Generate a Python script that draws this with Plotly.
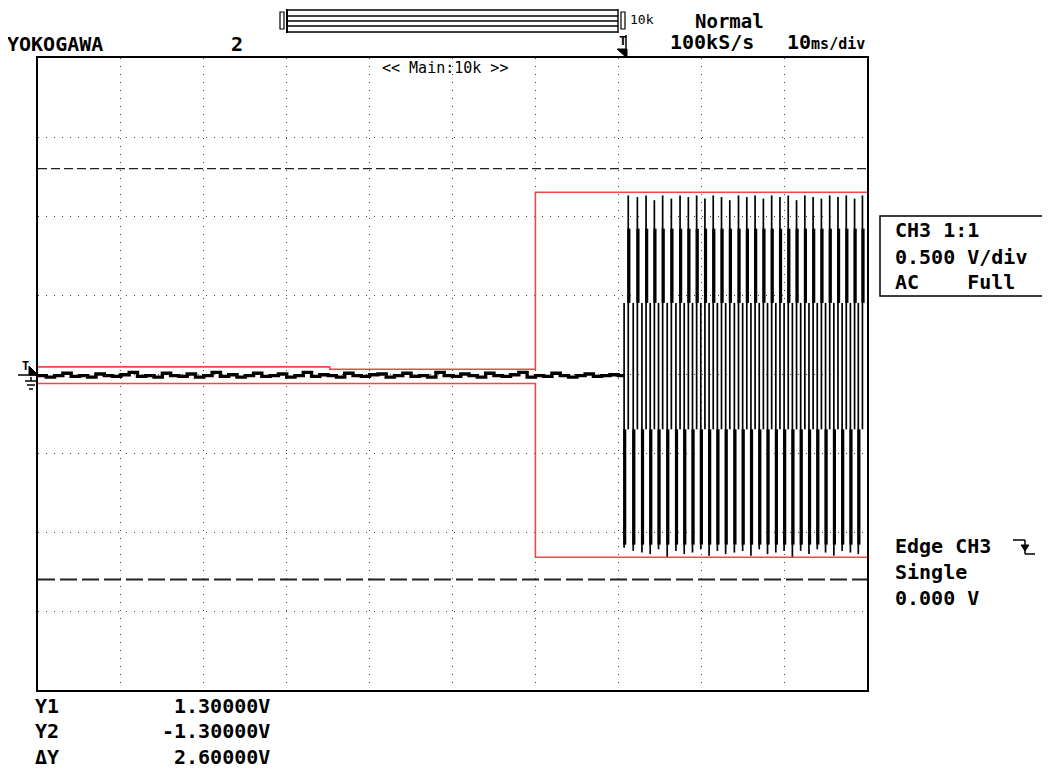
import plotly.graph_objects as go

# ---- data (time in ms relative to trigger, volts) ----
noise_t = list(range(-70, 1))
noise_v = [-0.010, -0.020, -0.010, 0.005, -0.015, -0.010, -0.020, 0.000, -0.010, -0.015,
           -0.005, 0.010, -0.015, -0.010, -0.020, 0.005, -0.010, -0.015, 0.000, -0.020,
           -0.010, 0.010, -0.015, -0.005, -0.020, -0.010, 0.005, -0.015, -0.010, 0.000,
           -0.020, -0.010, 0.010, -0.015, -0.005, -0.010, -0.020, 0.005, -0.010, -0.015,
           -0.005, 0.000, -0.020, -0.010, 0.005, -0.015, -0.010, -0.020, 0.010, -0.010,
           -0.015, 0.000, -0.010, -0.020, 0.005, -0.010, -0.015, -0.005, 0.010, -0.020,
           -0.010, -0.015, 0.005, -0.010, -0.020, -0.010, 0.000, -0.015, -0.010, -0.005, -0.010]

edge_t = [0.7, 1.8, 2.85, 3.85, 4.85, 5.9, 6.95, 7.95, 8.95, 9.95, 10.95, 11.95, 12.95,
          14.0, 15.0, 16.0, 17.0, 18.0, 19.0, 20.0, 21.0, 22.0, 23.0, 24.0, 25.0, 26.0,
          27.0, 28.0, 28.95]
peak_hi = [1.13, 1.12, 1.13, 1.10, 1.13, 1.11, 1.13, 1.12, 1.13, 1.11, 1.13, 1.12, 1.10,
           1.13, 1.12, 1.13, 1.11, 1.13, 1.12, 1.13, 1.10, 1.13, 1.12, 1.11, 1.13, 1.12,
           1.13, 1.11, 1.13]
peak_lo = [-1.10, -1.12, -1.13, -1.14, -1.11, -1.16, -1.12, -1.14, -1.13, -1.11, -1.15,
           -1.12, -1.14, -1.13, -1.12, -1.15, -1.11, -1.14, -1.13, -1.12, -1.16, -1.12,
           -1.14, -1.11, -1.13, -1.15, -1.12, -1.13, -1.14]
# dense (min/max) bands seen inside each cycle
low_band = [-1.08, -0.35]
high_band = [0.92, 0.45]

mask_hi_t = [-70, -34.8, -34.8, -10, -10, 30]
mask_hi_v = [0.045, 0.045, 0.03, 0.03, 1.15, 1.15]
mask_lo_t = [-70, -10, -10, 30]
mask_lo_v = [-0.06, -0.06, -1.16, -1.16]

cursor_y = [1.3, -1.3]

# ---- burst drawn as min/max columns, like the scope display ----
thin_t, thin_v, band_t, band_v = [], [], [], []
for t, hi, lo in zip(edge_t, peak_hi, peak_lo):
    thin_t += [t, t, None, t + 0.5, t + 0.5, None]
    thin_v += [high_band[1], lo, None, low_band[1], hi, None]
    band_t += [t + 0.07, t + 0.07, None, t + 0.57, t + 0.57, None]
    band_v += [low_band[0], low_band[1], None, high_band[0], high_band[1], None]

# plot frame position on screen (page body adds an 8px offset)
OFF = 8
L, R, T, B = 38, 867, 58, 690
W, H = R - L, B - T
FW, FH = 1050 - OFF, 775 - OFF


def px(x):
    return (x - L) / W


def py(y):
    return (B - y) / H


FONT = "DejaVu Sans Mono"

fig = go.Figure()
fig.add_trace(go.Scatter(x=noise_t + [edge_t[0]], y=noise_v + [noise_v[-1]], mode="lines",
                         line_shape="hv", line=dict(color="black", width=3.4),
                         hoverinfo="skip"))
fig.add_trace(go.Scatter(x=thin_t, y=thin_v, mode="lines",
                         line=dict(color="black", width=1.7), hoverinfo="skip"))
fig.add_trace(go.Scatter(x=band_t, y=band_v, mode="lines",
                         line=dict(color="black", width=3.2), hoverinfo="skip"))
fig.add_trace(go.Scatter(x=mask_hi_t, y=mask_hi_v, mode="lines",
                         line=dict(color="#f04848", width=1.6), hoverinfo="skip"))
fig.add_trace(go.Scatter(x=mask_lo_t, y=mask_lo_v, mode="lines",
                         line=dict(color="#f04848", width=1.6), hoverinfo="skip"))
fig.add_trace(go.Scatter(x=[-70, 30], y=[cursor_y[0]] * 2, mode="lines",
                         line=dict(color="#222", width=1.4, dash="9px,4px"), hoverinfo="skip"))
fig.add_trace(go.Scatter(x=[-70, 30], y=[cursor_y[1]] * 2, mode="lines",
                         line=dict(color="#222", width=2, dash="17px,5px"), hoverinfo="skip"))

axis = dict(showgrid=True, gridcolor="#444", gridwidth=1.3, griddash="1px,7px",
            zeroline=False, showticklabels=False, ticks="",
            showline=True, mirror=True, linecolor="black", linewidth=2)
fig.update_xaxes(range=[-70, 30], tick0=-70, dtick=10, **axis)
fig.update_yaxes(range=[-2, 2], tick0=-2, dtick=0.5, **axis)

ann = []


def text(x, y, s, size=20, bold=True, anchor="left", yanchor="middle"):
    ann.append(dict(x=px(x), y=py(y), xref="paper", yref="paper", text=s, showarrow=False,
                    xanchor=anchor, yanchor=yanchor,
                    font=dict(family=FONT, size=size, color="black",
                              weight="bold" if bold else "normal")))


text(5, 44, "YOKOGAWA")
text(229, 44, "2")
text(693, OFF, "Normal", size=19, yanchor="top")
text(668, 42, "100kS/s")
text(867, 42, "10<span style='font-size:15px'>ms/div</span>", anchor="right")
text(380, 68, "&lt;&lt; Main:10k &gt;&gt;", size=15, bold=False)
text(628, 20, "10k", size=13, bold=False)
text(617, 40, "T", size=13)
text(20, 366, "T", size=12)

text(893, 230, "CH3 1:1")
text(893, 257, "0.500 V/div")
text(893, 282, "AC    Full")
text(893, 546, "Edge CH3")
text(893, 572, "Single")
text(893, 598, "0.000 V")

text(33, 706, "Y1")
text(33, 731, "Y2")
text(33, 757, "ΔY")
text(272, 706, "1.30000V", anchor="right")
text(272, 731, "-1.30000V", anchor="right")
text(272, 757, "2.60000V", anchor="right")

shapes = []


def line(x0, y0, x1, y1, w=1.5):
    shapes.append(dict(type="line", xref="paper", yref="paper", x0=px(x0), y0=py(y0),
                       x1=px(x1), y1=py(y1), line=dict(color="black", width=w)))


def rect(x0, y0, x1, y1, w=1.5):
    shapes.append(dict(type="rect", xref="paper", yref="paper", x0=px(x0), y0=py(y0),
                       x1=px(x1), y1=py(y1), line=dict(color="black", width=w)))


def tri(pts):
    path = "M " + " L ".join(f"{px(a)},{py(b)}" for a, b in pts) + " Z"
    shapes.append(dict(type="path", xref="paper", yref="paper", path=path,
                       fillcolor="black", line=dict(color="black", width=1)))


# record length bar at top
for yy in [10, 16, 21, 26, 32]:
    line(287, yy, 618, yy, 1.4)
line(287, 9, 287, 33, 2)
line(618, 9, 618, 33, 1.4)
rect(280, 12, 284, 29, 1.2)
rect(621, 12, 625, 29, 1.2)

# trigger position marker
line(626, 35, 626, 50, 1.5)
tri([(617, 49), (627, 49), (627, 58)])

# channel info box
rect(880, 216, 1047, 296, 1.5)

# falling edge symbol
line(1013, 540, 1025, 540, 1.5)
line(1025, 540, 1025, 554, 1.5)
line(1025, 554, 1035, 554, 1.5)
tri([(1021, 545), (1029, 545), (1025, 551)])

# left trigger level / ground markers
tri([(29, 366), (38, 375), (29, 375)])
line(18, 375, 38, 375, 1.5)
line(31, 377, 31, 381, 1.5)
line(25, 381, 37, 381, 1.5)
line(27, 385, 35, 385, 1.5)
line(29, 389, 33, 389, 1.5)

fig.update_layout(width=FW, height=FH, showlegend=False,
                  paper_bgcolor="white", plot_bgcolor="white",
                  margin=dict(l=L - OFF, r=FW - (R - OFF), t=T - OFF, b=FH - (B - OFF)),
                  annotations=ann, shapes=shapes)

fig.write_html("out.html")
